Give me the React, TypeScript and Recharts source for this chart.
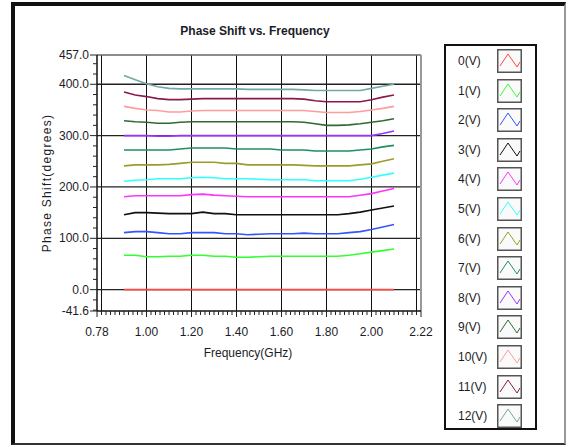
import React from "react";
import { LineChart, Line, XAxis, YAxis, ReferenceLine } from "recharts";

const freqs = [0.9, 0.95, 1.0, 1.05, 1.1, 1.15, 1.2, 1.25, 1.3, 1.35, 1.4, 1.45, 1.5, 1.55, 1.6, 1.65, 1.7, 1.75, 1.8, 1.85, 1.9, 1.95, 2.0, 2.05, 2.1];

const v0 = [0, 0, 0, 0, 0, 0, 0, 0, 0, 0, 0, 0, 0, 0, 0, 0, 0, 0, 0, 0, 0, 0, 0, 0, 0];
const v1 = [67, 67, 64, 64, 65, 65, 67, 67, 65, 65, 63, 63, 64, 65, 65, 65, 65, 65, 65, 65, 67, 70, 73, 76, 79];
const v2 = [111, 113, 113, 111, 109, 109, 111, 111, 111, 109, 109, 107, 108, 109, 109, 109, 110, 109, 109, 109, 111, 113, 117, 122, 127];
const v3 = [146, 150, 150, 149, 148, 148, 148, 151, 148, 148, 146, 146, 146, 146, 146, 146, 146, 146, 146, 146, 148, 151, 155, 159, 163];
const v4 = [181, 183, 183, 183, 183, 183, 185, 186, 184, 183, 182, 181, 181, 181, 181, 181, 181, 181, 181, 181, 181, 184, 187, 192, 197];
const v5 = [211, 213, 214, 216, 216, 216, 218, 219, 218, 216, 216, 216, 215, 214, 214, 214, 214, 212, 212, 212, 212, 215, 219, 223, 227];
const v6 = [241, 243, 243, 243, 244, 246, 248, 248, 248, 246, 246, 243, 243, 243, 243, 243, 242, 241, 241, 241, 241, 243, 245, 250, 255];
const v7 = [272, 272, 272, 272, 272, 274, 276, 276, 276, 276, 274, 274, 274, 274, 272, 272, 272, 270, 270, 270, 270, 272, 274, 278, 281];
const v8 = [300, 300, 300, 299, 299, 300, 300, 300, 300, 300, 300, 300, 300, 300, 300, 300, 300, 300, 300, 300, 300, 300, 300, 304, 309];
const v9 = [329, 327, 326, 324, 324, 326, 327, 327, 327, 327, 327, 327, 327, 327, 327, 327, 326, 323, 320, 320, 321, 323, 326, 329, 333];
const v10 = [357, 353, 350, 349, 346, 346, 348, 349, 349, 349, 349, 349, 349, 349, 349, 349, 349, 347, 345, 345, 345, 347, 350, 353, 357];
const v11 = [385, 379, 376, 372, 370, 370, 371, 372, 372, 372, 372, 372, 372, 372, 372, 372, 371, 368, 366, 366, 366, 366, 370, 375, 379];
const v12 = [417, 409, 401, 395, 392, 391, 391, 391, 391, 391, 391, 390, 390, 390, 390, 390, 389, 388, 388, 388, 388, 388, 392, 396, 400];

const seriesValues = [v0, v1, v2, v3, v4, v5, v6, v7, v8, v9, v10, v11, v12];
const seriesNames = ["0(V)", "1(V)", "2(V)", "3(V)", "4(V)", "5(V)", "6(V)", "7(V)", "8(V)", "9(V)", "10(V)", "11(V)", "12(V)"];
const seriesColors = ["#ff4747", "#33ff33", "#3355ff", "#111111", "#ff33ff", "#33ffff", "#9c9c2c", "#1f8f5f", "#9933ff", "#2f6a33", "#ff9c9c", "#8b1a4a", "#72aaa2"];

const xLabels = [0.78, 1.0, 1.2, 1.4, 1.6, 1.8, 2.0, 2.22];
const yLabels = [-41.6, 0, 100, 200, 300, 400, 457];
const xGrid = [0.8, 1.0, 1.2, 1.4, 1.6, 1.8, 2.0, 2.2];
const yGrid = [0, 100, 200, 300, 400];

const xTicks: number[] = [];
for (let k = 39; k <= 111; k++) xTicks.push(Math.round(k * 2) / 100);
const yTicks: number[] = [-41.6];
for (let v = -40; v <= 440; v += 20) yTicks.push(v);
yTicks.push(457);

const data = freqs.map((f, i) => {
  const row: any = { f };
  seriesValues.forEach((vals, s) => (row["s" + s] = vals[i]));
  return row;
});

const FONT = '"Liberation Sans", Arial, sans-serif';
const TEXT = "#1c1c28";
const near = (list: number[], v: number) => list.some((a) => Math.abs(a - v) < 1e-6);

const XTick = ({ x, y, payload }: any) => {
  const major = near(xLabels, payload.value);
  return (
    <g>
      <line x1={x} x2={x} y1={y} y2={y + (major ? 6 : 4)} stroke="#222" strokeWidth={1} />
      {major && (
        <text x={x} y={y + 21} dy="0.35em" textAnchor="middle" fontSize={12} fontFamily={FONT} fill={TEXT}>
          {payload.value.toFixed(2)}
        </text>
      )}
    </g>
  );
};

const YTick = ({ x, y, payload }: any) => {
  const major = near(yLabels, payload.value);
  return (
    <g>
      <line x1={x} x2={x - (major ? 7 : 4)} y1={y} y2={y} stroke="#222" strokeWidth={1} />
      {major && (
        <text x={x - 8} y={y} dy="0.35em" textAnchor="end" fontSize={12} fontFamily={FONT} fill={TEXT}>
          {payload.value.toFixed(1)}
        </text>
      )}
    </g>
  );
};

const LegendIcon = ({ color }: { color: string }) => (
  <svg width={25} height={24} style={{ display: "block" }}>
    <rect x={0.75} y={0.75} width={23.5} height={22.5} fill="#fafafa" stroke="#555" strokeWidth={1.5} />
    <polyline points="3,17 11,5 20,18 23,13" fill="none" stroke={color} strokeWidth={1} />
  </svg>
);

export default function App() {
  return (
    <div style={{ position: "absolute", left: 0, top: 0, width: 569, height: 447, background: "#fff", fontFamily: FONT, color: TEXT }}>
      <div
        style={{
          position: "absolute",
          left: 11,
          top: 2,
          width: 555,
          height: 443,
          boxSizing: "border-box",
          borderTop: "4px solid #111",
          borderLeft: "4px solid #111",
          borderRight: "2px solid #999",
          borderBottom: "2px solid #333",
        }}
      />
      <div style={{ position: "absolute", left: 155, top: 23, width: 200, textAlign: "center", fontSize: 12, fontWeight: "bold", lineHeight: "16px" }}>
        Phase Shift vs. Frequency
      </div>
      <div style={{ position: "absolute", left: 0, top: 0 }}>
        <LineChart width={569} height={447} data={data} margin={{ top: 55, right: 148, left: 40, bottom: 106 }}>
          <XAxis
            dataKey="f"
            type="number"
            domain={[0.78, 2.22]}
            ticks={xTicks}
            interval={0}
            tickSize={0}
            tickMargin={0}
            tickLine={false}
            tick={<XTick />}
            height={30}
            axisLine={{ stroke: "#111", strokeWidth: 1.5 }}
          />
          <YAxis
            type="number"
            domain={[-41.6, 457]}
            ticks={yTicks}
            interval={0}
            tickSize={0}
            tickMargin={0}
            tickLine={false}
            tick={<YTick />}
            width={57}
            axisLine={{ stroke: "#111", strokeWidth: 1.5 }}
          />
          {xGrid.map((v) => (
            <ReferenceLine key={"gx" + v} x={v} stroke="#111" strokeWidth={1} />
          ))}
          {yGrid.map((v) => (
            <ReferenceLine key={"gy" + v} y={v} stroke="#222" strokeWidth={1.3} />
          ))}
          <ReferenceLine y={457} stroke="#666" strokeWidth={1.5} />
          <ReferenceLine x={2.22} stroke="#999" strokeWidth={2} />
          {seriesValues.map((_, s) => (
            <Line
              key={s}
              type="linear"
              dataKey={"s" + s}
              stroke={seriesColors[s]}
              strokeWidth={1.6}
              dot={false}
              isAnimationActive={false}
            />
          ))}
        </LineChart>
      </div>
      <div
        style={{
          position: "absolute",
          left: 47,
          top: 183,
          transform: "translate(-50%, -50%) rotate(-90deg)",
          fontSize: 12,
          letterSpacing: 1.3,
          whiteSpace: "nowrap",
        }}
      >
        Phase Shift(degrees)
      </div>
      <div style={{ position: "absolute", left: 198, top: 345, width: 100, textAlign: "center", fontSize: 12, lineHeight: "16px", whiteSpace: "nowrap" }}>
        Frequency(GHz)
      </div>
      <div
        style={{
          position: "absolute",
          left: 444,
          top: 44,
          width: 93,
          height: 386,
          boxSizing: "border-box",
          border: "2.5px solid #111",
          background: "#fff",
        }}
      >
        {seriesNames.map((name, i) => (
          <div key={name} style={{ position: "absolute", left: 0, top: 3 + i * 29.6, width: 88, height: 24 }}>
            <div style={{ position: "absolute", left: 12, top: 4, fontSize: 12, lineHeight: "16px" }}>{name}</div>
            <div style={{ position: "absolute", left: 51, top: 0 }}>
              <LegendIcon color={seriesColors[i]} />
            </div>
          </div>
        ))}
      </div>
    </div>
  );
}
